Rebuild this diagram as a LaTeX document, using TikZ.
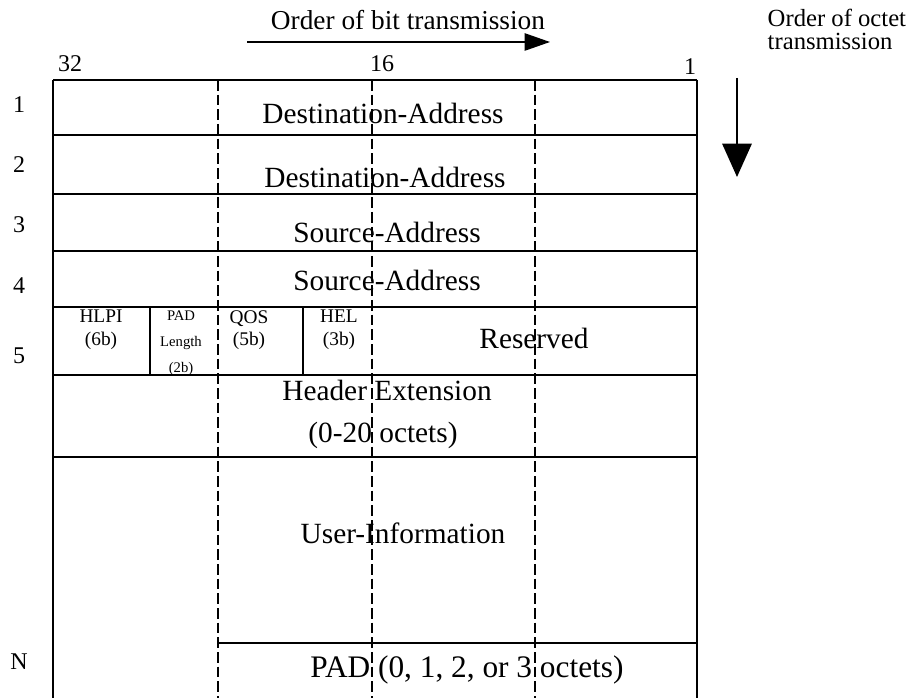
\documentclass[tikz,border=0pt]{standalone}
\usepackage{fontspec}
\setmainfont{Liberation Serif}
\usetikzlibrary{arrows.meta}
\begin{document}
\begin{tikzpicture}[x=0.75pt, y=-0.75pt, line width=1.1pt,
    fld/.style={font=\fontsize{22}{26}\selectfont, inner sep=0pt},
    num/.style={font=\fontsize{18}{20}\selectfont, inner sep=0pt},
    note/.style={font=\fontsize{18.5}{22}\selectfont, inner sep=0pt},
    sub/.style={align=center, font=\fontsize{14.5}{17}\selectfont, inner sep=0pt},
    tiny/.style={align=center, font=\fontsize{11}{19.5}\selectfont, inner sep=0pt},
    div/.style={dash pattern=on 8pt off 3pt, line width=0.9pt}]
  \useasboundingbox (0,0) rectangle (920,698);
  % frame and row lines
  \draw (53,80) -- (697,80);
  \draw (53,80) -- (53,698);
  \draw (697,80) -- (697,698);
  \foreach \y in {135,194,251,307,375,457}{
    \draw (53,\y) -- (697,\y);
  }
  \draw (218,643) -- (697,643);
  \draw (150,307) -- (150,375);
  \draw (303,307) -- (303,375);
  \foreach \x in {218,372,535}{
    \draw[div] (\x,80) -- (\x,698);
  }
  % bit positions and octet numbers
  \node[num] (b32) at (70,64) {32};
  \node[num] (b16) at (382,64) {16};
  \node[num] (b1) at (690,67) {1};
  \foreach \n/\y in {1/105, 2/165, 3/225, 4/286, 5/356, N/662}{
    \node[num] (oct\n) at (19,\y) {\n};
  }
  % fields
  \node[fld] (dst1) at (383,113) {Destination-Address};
  \node[fld] (dst2) at (385,177) {Destination-Address};
  \node[fld] (src1) at (387,232) {Source-Address};
  \node[fld] (src2) at (387,280) {Source-Address};
  \node[sub] (hlpi) at (101,330) {HLPI\\(6b)};
  \node[tiny] (padlen) at (181,343) {PAD\\Length\\(2b)};
  \node[sub] (qos) at (249,330) {QOS\\(5b)};
  \node[sub] (hel) at (339,330) {HEL\\(3b)};
  \node[fld] (rsv) at (534,338) {Reserved};
  \node[fld] (hdrext) at (387,390) {Header Extension};
  \node[fld] (hdrlen) at (383,435) {(0-20 octets)};
  \node[fld] (user) at (403,533) {User-Information};
  \node[fld, font=\fontsize{23.5}{26}\selectfont] (pad) at (467,670) {PAD (0, 1, 2, or 3 octets)};
  % transmission order
  \node[font=\fontsize{20.5}{24}\selectfont, inner sep=0pt] (bitord) at (408,20) {Order of bit transmission};
  \coordinate (bitS) at (247,42);
  \coordinate (bitE) at (550,42);
  \draw[-{Triangle[length=19pt, width=13pt]}] (bitS) -- (bitE);
  \node[note, anchor=west] (octord) at (767,18) {Order of octet};
  \node[note, anchor=west] (octord2) at (767,41) {transmission};
  \coordinate (octS) at (737,78);
  \coordinate (octE) at (737,177);
  \draw[line width=1.5pt, -{Triangle[length=25pt, width=22pt]}] (octS) -- (octE);
\end{tikzpicture}
\end{document}
